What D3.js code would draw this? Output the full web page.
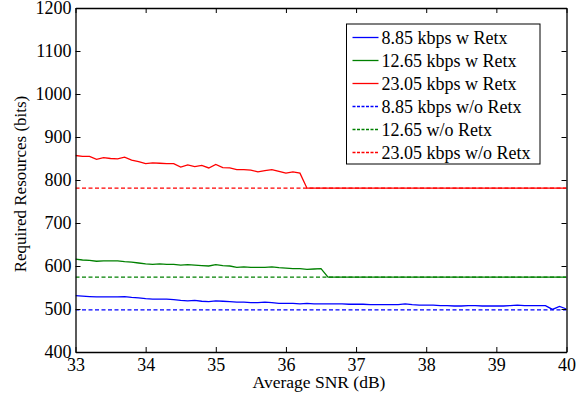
<!DOCTYPE html>
<html>
<head>
<meta charset="utf-8">
<script src="https://cdn.jsdelivr.net/npm/d3@7"></script>
<style>
  body { margin: 0; background: #fff; }
  text { font-family: "Liberation Serif", "Times New Roman", serif; fill: #000; }
</style>
</head>
<body>
<svg id="chart" width="582" height="396"></svg>
<script>
// average SNR (dB), 0.1 dB steps
const snr = [33.0,33.1,33.2,33.3,33.4,33.5,33.6,33.7,33.8,33.9,
             34.0,34.1,34.2,34.3,34.4,34.5,34.6,34.7,34.8,34.9,
             35.0,35.1,35.2,35.3,35.4,35.5,35.6,35.7,35.8,35.9,
             36.0,36.1,36.2,36.3,36.4,36.5,36.6,36.7,36.8,36.9,
             37.0,37.1,37.2,37.3,37.4,37.5,37.6,37.7,37.8,37.9,
             38.0,38.1,38.2,38.3,38.4,38.5,38.6,38.7,38.8,38.9,
             39.0,39.1,39.2,39.3,39.4,39.5,39.6,39.7,39.8,39.9,40.0];

const retx885 = [531,530,529,528,528,528,528,529,527,526,
                 524,523,523,523,522,520,519,520,518,517,
                 519,518,517,516,516,515,515,516,515,513,
                 513,513,512,513,512,512,512,512,512,511,
                 511,511,510,510,510,510,510,512,510,509,
                 509,509,508,508,507,507,508,508,507,507,
                 507,507,508,509,508,508,508,508,499,506,500];

const retx1265 = [616,614,613,611,612,612,612,610,609,607,
                  605,604,605,604,604,602,603,602,601,600,
                  603,601,600,597,598,597,597,597,598,596,
                  595,594,594,592,593,594,574,574,574,574,
                  574,574,574,574,574,574,574,574,574,574,
                  574,574,574,574,574,574,574,574,574,574,
                  574,574,574,574,574,574,574,574,574,574,574];

const retx2305 = [857,855,855,848,852,850,849,853,846,843,
                  838,840,839,838,838,830,835,831,834,828,
                  836,829,828,824,824,823,819,822,824,820,
                  816,819,816,781,781,781,781,781,781,781,
                  781,781,781,781,781,781,781,781,781,781,
                  781,781,781,781,781,781,781,781,781,781,
                  781,781,781,781,781,781,781,781,781,781,781];

// without retransmission: flat levels
const noRetx885 = 498;
const noRetx1265 = 574;
const noRetx2305 = 781;

const xTicks = [33, 34, 35, 36, 37, 38, 39, 40];
const yTicks = [400, 500, 600, 700, 800, 900, 1000, 1100, 1200];

const legendLabels = ["8.85 kbps w Retx", "12.65 kbps w Retx", "23.05 kbps w Retx",
                      "8.85 kbps w/o Retx", "12.65 w/o Retx", "23.05 kbps w/o Retx"];

const series = [
  { name: legendLabels[0], values: retx885, color: "#0000ff", dash: null },
  { name: legendLabels[1], values: retx1265, color: "#008000", dash: null },
  { name: legendLabels[2], values: retx2305, color: "#ff0000", dash: null },
  { name: legendLabels[3], values: snr.map(() => noRetx885), color: "#0000ff", dash: "4,2.5" },
  { name: legendLabels[4], values: snr.map(() => noRetx1265), color: "#008000", dash: "4,2.5" },
  { name: legendLabels[5], values: snr.map(() => noRetx2305), color: "#ff0000", dash: "4,2.5" }
];

const margin = { top: 8, right: 15.5, bottom: 44, left: 75.5 };
const width = 582, height = 396;
const svg = d3.select("#chart");

const x = d3.scaleLinear().domain([33, 40]).range([margin.left, width - margin.right]);
const y = d3.scaleLinear().domain([400, 1200]).range([height - margin.bottom, margin.top]);

const line = d3.line().x((d, i) => x(snr[i])).y(d => y(d));

// clip so lines stay in the box
svg.append("clipPath").attr("id", "clip")
  .append("rect")
  .attr("x", margin.left).attr("y", margin.top)
  .attr("width", x(40) - x(33)).attr("height", y(400) - y(1200));

// dashed first, solid on top
const order = [3, 4, 5, 0, 1, 2];
svg.append("g").attr("clip-path", "url(#clip)")
  .selectAll("path")
  .data(order.map(i => series[i]))
  .enter()
  .append("path")
  .attr("d", d => line(d.values))
  .attr("fill", "none")
  .attr("stroke", d => d.color)
  .attr("stroke-width", 1.3)
  .attr("stroke-dasharray", d => d.dash);

// axes, matlab style: ticks inward, on all four sides
const tickLen = 5;
const fontSize = 18;
const fmt = d3.format("d");

const xAxis = svg.append("g")
  .attr("transform", `translate(0,${y(400)})`)
  .call(d3.axisBottom(x).tickValues(xTicks).tickFormat(fmt).tickSizeInner(-tickLen).tickSizeOuter(0).tickPadding(6));
const yAxis = svg.append("g")
  .attr("transform", `translate(${x(33)},0)`)
  .call(d3.axisLeft(y).tickValues(yTicks).tickFormat(fmt).tickSizeInner(-tickLen).tickSizeOuter(0).tickPadding(4));
const xTop = svg.append("g")
  .attr("transform", `translate(0,${y(1200)})`)
  .call(d3.axisTop(x).tickValues(xTicks).tickSizeInner(-tickLen).tickSizeOuter(0).tickFormat(""));
const yRight = svg.append("g")
  .attr("transform", `translate(${x(40)},0)`)
  .call(d3.axisRight(y).tickValues(yTicks).tickSizeInner(-tickLen).tickSizeOuter(0).tickFormat(""));

[xAxis, yAxis, xTop, yRight].forEach(g => {
  g.select(".domain").attr("stroke", "#000").attr("stroke-width", 1.3);
  g.selectAll(".tick line").attr("stroke", "#000").attr("stroke-width", 1);
  g.selectAll(".tick text")
    .style("font-family", '"Liberation Serif", serif')
    .style("font-size", fontSize + "px")
    .attr("fill", "#000");
});

// axis titles
svg.append("text")
  .attr("x", 319)
  .attr("y", 388)
  .attr("text-anchor", "middle")
  .style("font-size", "17.5px")
  .text("Average SNR (dB)");

svg.append("text")
  .attr("transform", `translate(26,184) rotate(-90)`)
  .attr("text-anchor", "middle")
  .style("font-size", "17px")
  .text("Required Resources (bits)");

// legend
const legend = svg.append("g");
legend.append("rect")
  .attr("x", 346.5).attr("y", 24)
  .attr("width", 193.5).attr("height", 140)
  .attr("fill", "#fff")
  .attr("stroke", "#000")
  .attr("stroke-width", 1);

const rows = legend.selectAll("g.row")
  .data(series)
  .enter()
  .append("g")
  .attr("class", "row")
  .attr("transform", (d, i) => `translate(0,${37.5 + i * 23})`);

rows.append("line")
  .attr("x1", 352.5).attr("x2", 378.5)
  .attr("y1", 0).attr("y2", 0)
  .attr("stroke", d => d.color)
  .attr("stroke-width", 1.3)
  .attr("stroke-dasharray", d => d.dash ? "3,1.5" : null);

rows.append("text")
  .attr("x", 381.5)
  .attr("y", 0)
  .attr("dy", "0.35em")
  .style("font-size", "18px")
  .text(d => d.name);
</script>
</body>
</html>
